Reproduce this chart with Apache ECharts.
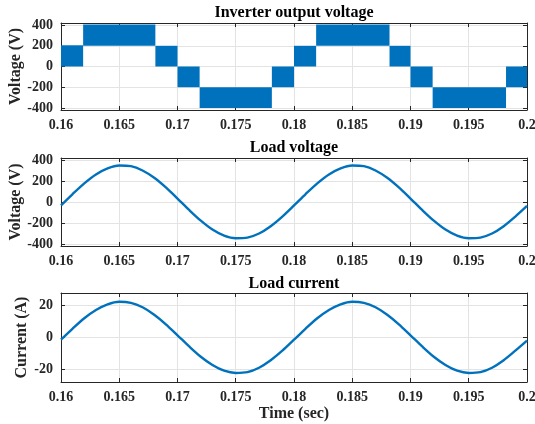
<!DOCTYPE html>
<html>
<head>
<meta charset="utf-8">
<script src="https://cdn.jsdelivr.net/npm/echarts@6/dist/echarts.min.js"></script>
<style>
html, body { margin: 0; padding: 0; background: #fff; }
#main { width: 535px; height: 424px; }
</style>
</head>
<body>
<div id="main"></div>
<script>
var myChart = echarts.init(document.getElementById('main'));

// inverter output: each block = fast switching between two adjacent levels
var blockStart = [0.160, 0.1619, 0.1681, 0.1700, 0.1719, 0.1781, 0.1800, 0.1819, 0.1882, 0.1900, 0.1919, 0.1982];
var blockEnd   = [0.1619, 0.1681, 0.1700, 0.1719, 0.1781, 0.1800, 0.1819, 0.1882, 0.1900, 0.1919, 0.1982, 0.200];
var blockLow   = [0, 200, 0, -200, -400, -200, 0, 200, 0, -200, -400, -200];
var blockHigh  = [205, 405, 200, 0, -200, 0, 200, 405, 200, 0, -200, 0];

var timeSec = [0.160, 0.161, 0.162, 0.163, 0.164, 0.165, 0.166, 0.167, 0.168, 0.169,
               0.170, 0.171, 0.172, 0.173, 0.174, 0.175, 0.176, 0.177, 0.178, 0.179,
               0.180, 0.181, 0.182, 0.183, 0.184, 0.185, 0.186, 0.187, 0.188, 0.189,
               0.190, 0.191, 0.192, 0.193, 0.194, 0.195, 0.196, 0.197, 0.198, 0.199, 0.200];
var loadVoltage = [-33, 76, 178, 263, 321, 348, 342, 301, 231, 139,
                   33, -76, -178, -263, -321, -346, -340, -301, -231, -139,
                   -33, 76, 178, 263, 321, 348, 342, 301, 231, 139,
                   33, -76, -178, -263, -321, -346, -340, -301, -231, -139, -38];
var loadCurrent = [-1.4, 5.6, 12.1, 17.3, 20.9, 22.5, 21.8, 19.0, 14.3, 8.3,
                   1.4, -5.6, -12.1, -17.3, -20.9, -22.3, -21.8, -19.0, -14.3, -8.3,
                   -1.4, 5.6, 12.1, 17.3, 20.9, 22.5, 21.8, 19.0, 14.3, 8.3,
                   1.4, -5.6, -12.1, -17.3, -20.9, -22.3, -21.8, -19.0, -14.3, -8.3, -2.0];

var titles = ['Inverter output voltage', 'Load voltage', 'Load current'];
var yNames = ['Voltage (V)', 'Voltage (V)', 'Current (A)'];
var yTicks = [[-400, -200, 0, 200, 400], [-400, -200, 0, 200, 400], [-20, 0, 20]];
var yLimits = [[-420, 420], [-420, 420], [-28, 28]];

var font = "'Liberation Serif', 'Times New Roman', serif";
var blue = '#0072BD';

var grids = [
    { left: 61, top: 23, width: 466, height: 87, outerBoundsMode: 'none' },
    { left: 61, top: 158, width: 466, height: 88, outerBoundsMode: 'none' },
    { left: 61, top: 293, width: 466, height: 89, outerBoundsMode: 'none' }
];
var titleTops = [5, 140, 276];
var yNameGaps = [37, 37, 31];

var xAxes = [], yAxes = [], titleList = [];
grids.forEach(function (g, i) {
    titleList.push({
        text: titles[i], left: 294, top: titleTops[i], textAlign: 'center', padding: 0,
        textStyle: { fontFamily: font, fontWeight: 'bold', fontSize: 16, color: '#000' }
    });
    var baseX = {
        gridIndex: i, type: 'value', min: 0.16, max: 0.2, interval: 0.005,
        axisLine: { show: true, onZero: false, lineStyle: { color: '#262626', width: 1 } },
        axisTick: { show: true, inside: true, length: 4, lineStyle: { color: '#262626' } }
    };
    xAxes.push(Object.assign({}, baseX, {
        position: 'bottom',
        axisLabel: {
            margin: 8, fontFamily: font, fontWeight: 'bold', fontSize: 14, color: '#262626',
            formatter: function (v) { return String(+v.toFixed(3)); }
        },
        splitLine: { show: true, lineStyle: { color: '#e3e3e3', width: 1 } },
        name: i === 2 ? 'Time (sec)' : '', nameLocation: 'middle', nameGap: 24,
        nameMoveOverlap: false,
        nameTextStyle: { fontFamily: font, fontWeight: 'bold', fontSize: 16, color: '#262626' }
    }));
    xAxes.push(Object.assign({}, baseX, {
        position: 'top', axisLabel: { show: false }, splitLine: { show: false }
    }));
    var baseY = {
        gridIndex: i, type: 'value', min: yLimits[i][0], max: yLimits[i][1],
        axisLine: { show: true, onZero: false, lineStyle: { color: '#262626', width: 1 } },
        axisTick: { show: true, inside: true, length: 4, customValues: yTicks[i], lineStyle: { color: '#262626' } }
    };
    yAxes.push(Object.assign({}, baseY, {
        position: 'left',
        axisLabel: {
            margin: 8, fontFamily: font, fontWeight: 'bold', fontSize: 14, color: '#262626',
            customValues: yTicks[i]
        },
        splitLine: { show: true, lineStyle: { color: '#e3e3e3', width: 1 } },
        name: yNames[i], nameLocation: 'middle', nameGap: yNameGaps[i],
        nameMoveOverlap: false,
        nameTextStyle: { fontFamily: font, fontWeight: 'bold', fontSize: 16, color: '#262626' }
    }));
    yAxes.push(Object.assign({}, baseY, {
        position: 'right', axisLabel: { show: false }, splitLine: { show: false }
    }));
});

var blockData = blockStart.map(function (t, i) {
    return [t, blockEnd[i], blockLow[i], blockHigh[i]];
});

option = {
    backgroundColor: '#fff',
    animation: false,
    title: titleList,
    grid: grids,
    xAxis: xAxes,
    yAxis: yAxes,
    series: [{
        name: 'Inverter output voltage',
        type: 'custom',
        xAxisIndex: 0,
        yAxisIndex: 0,
        encode: { x: [0, 1], y: [2, 3] },
        data: blockData,
        clip: true,
        renderItem: function (params, api) {
            var p0 = api.coord([api.value(0), api.value(3)]);
            var p1 = api.coord([api.value(1), api.value(2)]);
            return {
                type: 'rect',
                shape: { x: p0[0], y: p0[1], width: p1[0] - p0[0], height: p1[1] - p0[1] },
                style: { fill: blue }
            };
        }
    }, {
        name: 'Load voltage',
        type: 'line',
        xAxisIndex: 2,
        yAxisIndex: 2,
        showSymbol: false,
        smooth: 0.3,
        lineStyle: { color: blue, width: 2.4 },
        data: timeSec.map(function (t, i) { return [t, loadVoltage[i]]; })
    }, {
        name: 'Load current',
        type: 'line',
        xAxisIndex: 4,
        yAxisIndex: 4,
        showSymbol: false,
        smooth: 0.3,
        lineStyle: { color: blue, width: 2.4 },
        data: timeSec.map(function (t, i) { return [t, loadCurrent[i]]; })
    }]
};

myChart.setOption(option);
</script>
</body>
</html>
